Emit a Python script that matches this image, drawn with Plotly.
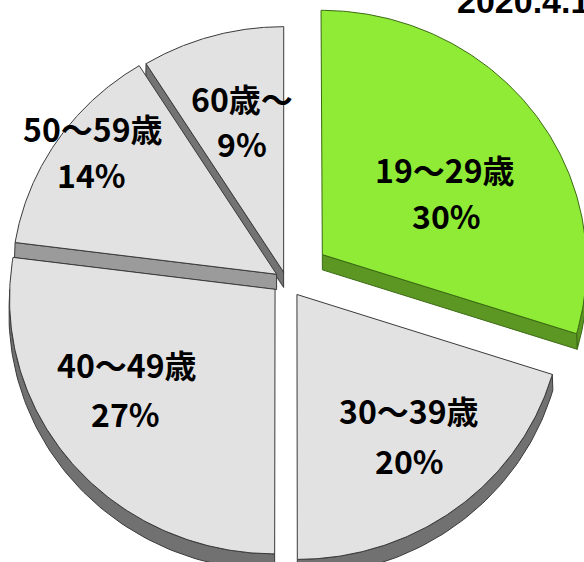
import numpy as np
import plotly.graph_objects as go

# ---- data ----
labels = ["19〜29歳", "30〜39歳", "40〜49歳", "50〜59歳", "60歳〜"]
values = [30, 20, 27, 14, 9]
pct_text = [f"{v}%" for v in values]
title_text = "2020.4.1"

# ---- style ----
face_colors = ["#8FEB35", "#E2E2E2", "#E2E2E2", "#E2E2E2", "#E2E2E2"]
edge_colors = ["#3C6A14", "#3A3A3A", "#3A3A3A", "#3A3A3A", "#3A3A3A"]
pulls = [0.17, 0.07, 0.055, 0.042, 0.032]
label_xy = [(0.61, 0.35), (0.455, -0.595), (-0.595, -0.42), (-0.746, 0.515), (-0.17, 0.64)]
DEPTH = 0.06
K = 0.035
CX, CY, RX, RY = 286.0, 280.0, 265.0, 255.0   # pixel centre and radii of the pie
FONT = "Noto Sans CJK JP"


def proj(x, y):
    x = np.asarray(x, float)
    y = np.asarray(y, float)
    s = 1 - K * y
    return x * s, y * s


def shade(hexc, f):
    h = hexc.lstrip("#")
    r, g, b = (int(h[i:i + 2], 16) for i in (0, 2, 4))
    return "#%02X%02X%02X" % (int(r * f), int(g * f), int(b * f))


def poly(fig, xs, ys, fill, line):
    px, py = proj(xs, ys)
    px = list(px) + [px[0]]
    py = list(py) + [py[0]]
    fig.add_trace(go.Scatter(x=px, y=py, mode="lines", fill="toself",
                             fillcolor=fill, line=dict(color=line, width=1),
                             hoverinfo="skip", showlegend=False))


total = float(sum(values))
slices = []
start = 0.0
for i, v in enumerate(values):
    a0 = start / total * 2 * np.pi
    a1 = (start + v) / total * 2 * np.pi
    start += v
    mid = (a0 + a1) / 2
    ox, oy = pulls[i] * np.sin(mid), pulls[i] * np.cos(mid)
    slices.append((i, a0, a1, ox, oy))

fig = go.Figure()
eps = 1e-6
for i, a0, a1, ox, oy in sorted(slices, key=lambda s: -s[4]):
    col = face_colors[i]
    ec = edge_colors[i]
    # arc side face (lower half of the ellipse)
    lo, hi = max(a0, np.pi / 2), min(a1, 3 * np.pi / 2)
    if hi > lo:
        t = np.linspace(lo, hi, 80)
        xs = np.concatenate([ox + np.sin(t), (ox + np.sin(t))[::-1]])
        ys = np.concatenate([oy + np.cos(t), (oy + np.cos(t) - DEPTH)[::-1]])
        f = 0.64 if i == 0 else 0.5
        poly(fig, xs, ys, shade(col, f), ec)
    # radial side faces
    for a, sgn in ((a0, -1), (a1, 1)):
        nx, ny = sgn * np.cos(a), -sgn * np.sin(a)
        if ny < -eps:
            px, py = ox + np.sin(a), oy + np.cos(a)
            xs = [ox, px, px, ox]
            ys = [oy, py, py - DEPTH, oy - DEPTH]
            f = 0.72 - 0.25 * abs(nx)
            poly(fig, xs, ys, shade(col, f), ec)
    # top face
    t = np.linspace(a0, a1, 150)
    xs = np.concatenate([[ox], ox + np.sin(t)])
    ys = np.concatenate([[oy], oy + np.cos(t)])
    poly(fig, xs, ys, col, ec)

annotations = []
dy = 0.093
for i, (lx, ly) in enumerate(label_xy):
    for txt, yy in ((labels[i], ly + dy), (pct_text[i], ly - dy)):
        px, py = proj([lx], [yy])
        annotations.append(dict(x=float(px[0]), y=float(py[0]), xref="x", yref="y",
                                text=txt, showarrow=False, xanchor="center", yanchor="middle",
                                font=dict(family=FONT, size=32, color="#000000", weight="bold")))
annotations.append(dict(x=455 / 584, y=1 - 22 / 562, xref="paper", yref="paper",
                        text=title_text, showarrow=False, xanchor="left", yanchor="bottom",
                        font=dict(family="Liberation Sans", size=34, color="#000000", weight="bold")))

fig.update_layout(
    width=584, height=562,
    margin=dict(l=0, r=0, t=0, b=0),
    paper_bgcolor="white", plot_bgcolor="white",
    xaxis=dict(range=[-CX / RX, (584 - CX) / RX], visible=False, fixedrange=True),
    yaxis=dict(range=[-(562 - CY) / RY, CY / RY], visible=False, fixedrange=True),
    annotations=annotations,
    showlegend=False,
)
fig.write_html("out.html", config={"displayModeBar": False},
               post_script="document.body.style.margin='0px';")
